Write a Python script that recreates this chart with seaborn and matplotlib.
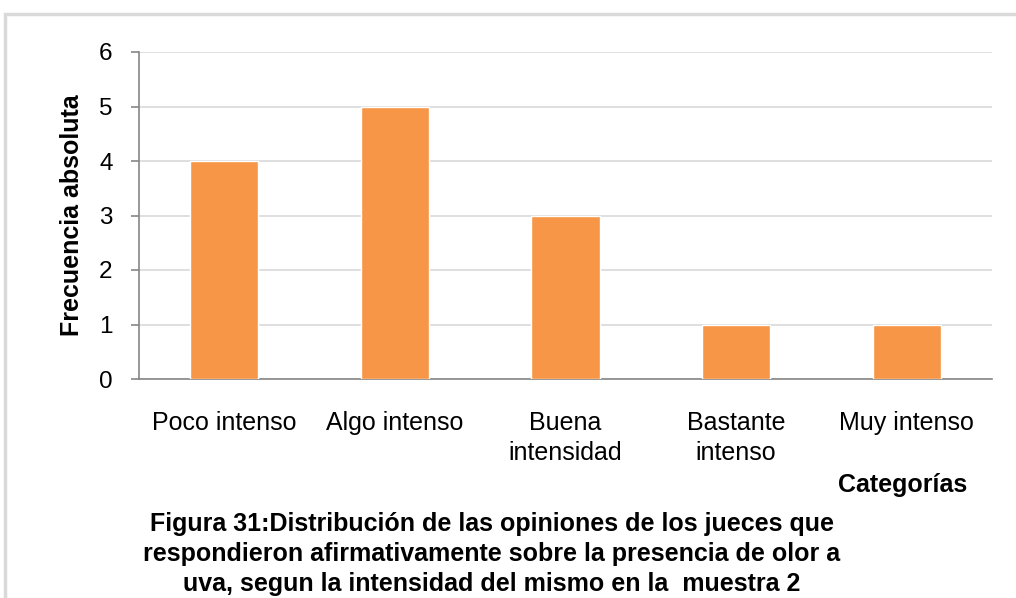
import pandas as pd
import matplotlib
matplotlib.use("Agg")
import matplotlib.pyplot as plt
import seaborn as sns
from matplotlib.patches import Rectangle

# data
categorias = ["Poco intenso", "Algo intenso", "Buena\nintensidad", "Bastante\nintenso", "Muy intenso"]
frecuencia = [4, 5, 3, 1, 1]
y_ticks = [0, 1, 2, 3, 4, 5, 6]

caption_lines = [
    "Figura 31:Distribución de las opiniones de los jueces que",
    "respondieron afirmativamente sobre la presencia de olor a",
    "uva, segun la intensidad del mismo en la  muestra 2",
]

df = pd.DataFrame({"Categoria": categorias, "Frecuencia": frecuencia})

sns.set_theme(style="white")
plt.rcParams["font.family"] = ["Liberation Sans", "DejaVu Sans"]
plt.rcParams["text.color"] = "black"
plt.rcParams["axes.labelcolor"] = "black"

fig = plt.figure(figsize=(10.16, 5.98), dpi=100)
ax = fig.add_axes([139 / 1016, 1 - 379 / 598, (992 - 139) / 1016, (379 - 52) / 598])

sns.barplot(data=df, x="Categoria", y="Frecuencia", color="#F79646",
            saturation=1, width=0.4, ax=ax, zorder=3)

ax.set_ylim(0, 6)
ax.set_xlim(-0.5, len(categorias) - 0.5)
ax.set_yticks(y_ticks)
ax.yaxis.grid(True, color="#D9D9D9", linewidth=1.2, zorder=0)
ax.set_axisbelow(True)

for side in ["top", "right"]:
    ax.spines[side].set_visible(False)
for side in ["left", "bottom"]:
    ax.spines[side].set_color("#868686")
    ax.spines[side].set_linewidth(1.2)

ax.tick_params(axis="y", left=True, length=6, width=1.2, color="#868686",
               pad=13, labelsize=17.5, labelcolor="black")
ax.tick_params(axis="x", bottom=False, pad=17, labelsize=18, labelcolor="black")
for lbl in ax.get_xticklabels():
    lbl.set_linespacing(1.3)
    lbl.set_verticalalignment("top")

ax.set_xlabel("")
ax.set_ylabel("Frecuencia absoluta", fontsize=18, fontweight="bold", labelpad=11)

fig.text(967 / 1016, 1 - 485 / 598, "Categorías", ha="right", va="center",
         fontsize=18, fontweight="bold")

for i, line in enumerate(caption_lines):
    fig.text(492 / 1016, 1 - (524 + i * 30) / 598, line, ha="center", va="center",
             fontsize=18, fontweight="bold")

# light grey frame around the chart area
fig.patches.append(Rectangle((5 / 1016, -0.1), 1.2, 1.1 - 14 / 598,
                             transform=fig.transFigure, fill=False,
                             edgecolor="#D9D9D9", linewidth=2.5))

fig.savefig("out.png", dpi=100)
